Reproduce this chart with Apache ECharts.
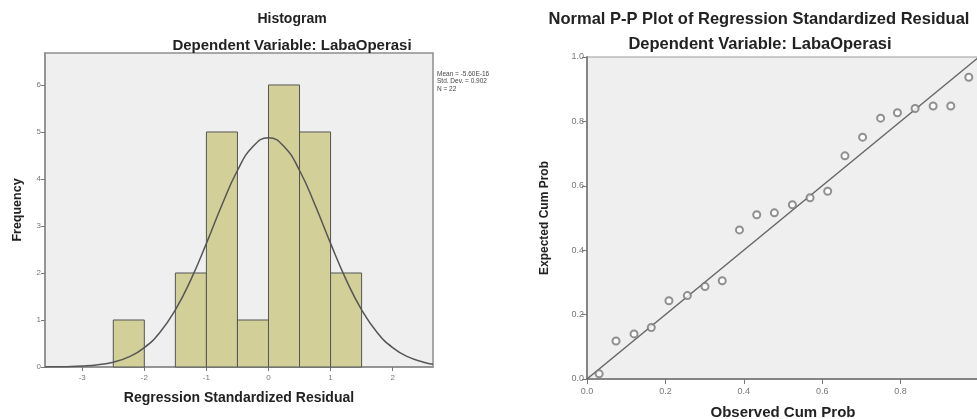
<!DOCTYPE html>
<html>
<head>
<meta charset="utf-8">
<script src="https://cdn.jsdelivr.net/npm/echarts@6/dist/echarts.min.js"></script>
<style>
  html, body { margin: 0; padding: 0; background: #fff; }
  #chart { width: 977px; height: 419px; }
</style>
</head>
<body>
<div id="chart"></div>
<script>
// histogram bins (start of each 0.5-wide bin) and counts
const binStarts = [-2.5, -1.5, -1.0, -0.5, 0.0, 0.5, 1.0]
const binCounts = [1, 2, 5, 1, 6, 5, 2]
const binWidth = 0.5

// normal curve
const curveX = [-3.6, -3.5, -3.25, -3, -2.75, -2.5, -2.25, -2, -1.75, -1.5, -1.25, -1, -0.75, -0.5, -0.25, 0,
  0.25, 0.5, 0.75, 1, 1.25, 1.5, 1.75, 2, 2.25, 2.5, 2.65]
const curveY = [0.002, 0.003, 0.007, 0.019, 0.046, 0.103, 0.214, 0.413, 0.736, 1.216, 1.859, 2.63, 3.446, 4.18, 4.692, 4.876,
  4.692, 4.18, 3.446, 2.63, 1.859, 1.216, 0.736, 0.413, 0.214, 0.103, 0.06]

const histXTicks = [-3, -2, -1, 0, 1, 2]
const histYTicks = [0, 1, 2, 3, 4, 5, 6]

// P-P plot points
const observedCum = [0.031, 0.074, 0.12, 0.164, 0.209, 0.256, 0.301, 0.345, 0.389, 0.433, 0.478,
  0.524, 0.569, 0.614, 0.658, 0.703, 0.749, 0.792, 0.837, 0.883, 0.928, 0.974]
const expectedCum = [0.016, 0.118, 0.14, 0.16, 0.243, 0.259, 0.287, 0.305, 0.463, 0.51, 0.516,
  0.541, 0.563, 0.583, 0.693, 0.751, 0.81, 0.827, 0.84, 0.848, 0.848, 0.937]
const ppTicks = [0, 0.2, 0.4, 0.6, 0.8, 1.0]

const statsLines = ['Mean = -5.60E-16', 'Std. Dev. = 0.902', 'N = 22']

const font = 'Liberation Sans, Arial, sans-serif'
const chart = echarts.init(document.getElementById('chart'))

const tickLabel = { fontFamily: font, fontSize: 8, color: '#777' }

chart.setOption({
  animation: false,
  backgroundColor: '#fff',
  title: [
    { text: 'Histogram', left: 287, top: 7, textAlign: 'center',
      textStyle: { fontFamily: font, fontSize: 14, fontWeight: 'bold', color: '#222' } },
    { text: 'Dependent Variable: LabaOperasi', left: 287, top: 33, textAlign: 'center',
      textStyle: { fontFamily: font, fontSize: 15, fontWeight: 'bold', color: '#222' } },
    { text: 'Normal P-P Plot of Regression Standardized Residual', left: 754, top: 6, textAlign: 'center',
      textStyle: { fontFamily: font, fontSize: 16.5, fontWeight: 'bold', color: '#222' } },
    { text: 'Dependent Variable: LabaOperasi', left: 755, top: 31, textAlign: 'center',
      textStyle: { fontFamily: font, fontSize: 16.5, fontWeight: 'bold', color: '#222' } }
  ],
  graphic: [{
    type: 'text', left: 437, top: 70,
    style: { text: statsLines.join('\n'), fontFamily: font, fontSize: 6.5, lineHeight: 7.5, fill: '#444' }
  }],
  grid: [
    { left: 45, top: 53, width: 388, height: 314, show: true, backgroundColor: '#efefef',
      borderColor: '#8e8e8e', borderWidth: 1.5, outerBoundsMode: 'none' },
    { left: 587, top: 57, width: 392, height: 322, show: true, backgroundColor: '#efefef',
      borderColor: '#9a9a9a', borderWidth: 1, outerBoundsMode: 'none' }
  ],
  xAxis: [
    { gridIndex: 0, type: 'value', min: -3.6, max: 2.65,
      name: 'Regression Standardized Residual', nameLocation: 'middle', nameGap: 24,
      nameTextStyle: { fontFamily: font, fontSize: 14, fontWeight: 'bold', color: '#222' },
      axisLine: { show: true, onZero: false, lineStyle: { color: '#8e8e8e', width: 1.5 } },
      axisTick: { show: true, length: 4, customValues: histXTicks, lineStyle: { color: '#777' } },
      axisLabel: Object.assign({ customValues: histXTicks, margin: 7 }, tickLabel),
      splitLine: { show: false } },
    { gridIndex: 1, type: 'value', min: 0, max: 1,
      name: 'Observed Cum Prob', nameLocation: 'middle', nameGap: 26,
      nameTextStyle: { fontFamily: font, fontSize: 15, fontWeight: 'bold', color: '#222' },
      axisLine: { show: true, onZero: false, lineStyle: { color: '#858585', width: 2 } },
      axisTick: { show: true, length: 5, customValues: ppTicks, lineStyle: { color: '#777' } },
      axisLabel: Object.assign({ customValues: ppTicks, margin: 8,
        formatter: v => v === 1 ? '1' : v.toFixed(1) }, tickLabel, { fontSize: 9 }),
      splitLine: { show: false } }
  ],
  yAxis: [
    { gridIndex: 0, type: 'value', min: 0, max: 6.68,
      name: 'Frequency', nameLocation: 'middle', nameGap: 21,
      nameTextStyle: { fontFamily: font, fontSize: 12.5, fontWeight: 'bold', color: '#222' },
      axisLine: { show: true, onZero: false, lineStyle: { color: '#8e8e8e', width: 1.5 } },
      axisTick: { show: true, length: 4, customValues: histYTicks, lineStyle: { color: '#777' } },
      axisLabel: Object.assign({ customValues: histYTicks, margin: 4 }, tickLabel),
      splitLine: { show: false } },
    { gridIndex: 1, type: 'value', min: 0, max: 1,
      name: 'Expected Cum Prob', nameLocation: 'middle', nameGap: 36,
      nameTextStyle: { fontFamily: font, fontSize: 12, fontWeight: 'bold', color: '#222' },
      axisLine: { show: true, onZero: false, lineStyle: { color: '#858585', width: 2 } },
      axisTick: { show: true, length: 5, customValues: ppTicks, lineStyle: { color: '#777' } },
      axisLabel: Object.assign({ customValues: ppTicks, margin: 3,
        formatter: v => v.toFixed(1) }, tickLabel, { fontSize: 9 }),
      splitLine: { show: false } }
  ],
  series: [
    {
      type: 'custom', xAxisIndex: 0, yAxisIndex: 0,
      data: binStarts.map((s, i) => [s, s + binWidth, binCounts[i]]),
      renderItem: (params, api) => {
        const p0 = api.coord([api.value(0), 0])
        const p1 = api.coord([api.value(1), api.value(2)])
        return {
          type: 'rect',
          shape: { x: p0[0], y: p1[1], width: p1[0] - p0[0], height: p0[1] - p1[1] },
          style: { fill: '#d3cf99', stroke: '#555', lineWidth: 1 }
        }
      },
      z: 2
    },
    {
      type: 'line', xAxisIndex: 0, yAxisIndex: 0,
      data: curveX.map((x, i) => [x, curveY[i]]),
      smooth: true, showSymbol: false,
      lineStyle: { color: '#555', width: 1.5 }, z: 3
    },
    {
      type: 'line', xAxisIndex: 1, yAxisIndex: 1,
      data: [[0, 0], [1, 1]], showSymbol: false,
      lineStyle: { color: '#666', width: 1.5 }, z: 2
    },
    {
      type: 'scatter', xAxisIndex: 1, yAxisIndex: 1,
      data: observedCum.map((x, i) => [x, expectedCum[i]]),
      symbol: 'emptyCircle', symbolSize: 7,
      itemStyle: { color: '#777', borderColor: '#777', borderWidth: 1 }, z: 3
    }
  ]
})

window.addEventListener('resize', () => {
  chart.resize()
})
</script>
</body>
</html>
